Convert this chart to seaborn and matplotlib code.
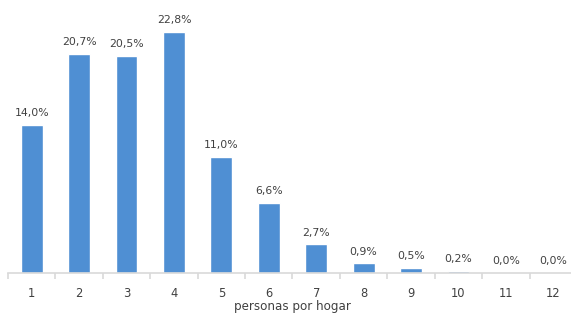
import matplotlib
matplotlib.use('Agg')
import matplotlib.pyplot as plt
import numpy as np
import pandas as pd
import seaborn as sns

# data
personas = ['1', '2', '3', '4', '5', '6', '7', '8', '9', '10', '11', '12']
porcentaje = [14.0, 20.7, 20.5, 22.8, 11.0, 6.6, 2.7, 0.9, 0.5, 0.2, 0.0, 0.0]

df = pd.DataFrame({'personas': personas, 'pct': porcentaje})

sns.set_style('white')
plt.rcParams['font.family'] = ['DejaVu Sans']

fig = plt.figure(figsize=(5.71, 3.14), dpi=100)
ax = fig.add_axes([8 / 571, 41 / 314, 569 / 571, 264.3 / 314])

sns.barplot(data=df, x='personas', y='pct', color='#4F8FD3', width=0.46,
            saturation=1, ax=ax)

for i, v in enumerate(porcentaje):
    ax.annotate(f'{v:.1f}%'.replace('.', ','), (i, v), xytext=(0, 5),
                textcoords='offset points', ha='center', va='bottom',
                fontsize=7.8, color='#404040')

ax.set_xlim(-0.5, 11.5)
ax.set_ylim(0, 25)
ax.set_yticks([])
ax.set_ylabel('')
ax.set_xlabel('personas por hogar', fontsize=8.6, color='#404040', labelpad=0)

for s in ['top', 'right', 'left']:
    ax.spines[s].set_visible(False)
ax.spines['bottom'].set_color('#D9D9D9')
ax.spines['bottom'].set_linewidth(1.2)

ax.set_xticks(np.arange(-0.5, 12, 1), minor=True)
ax.tick_params(axis='x', which='minor', length=4, color='#D9D9D9', width=1.2,
               direction='out', bottom=True)
ax.tick_params(axis='x', which='major', length=0, labelsize=8.3,
               labelcolor='#404040', pad=10)

fig.savefig('out.png', dpi=100)
